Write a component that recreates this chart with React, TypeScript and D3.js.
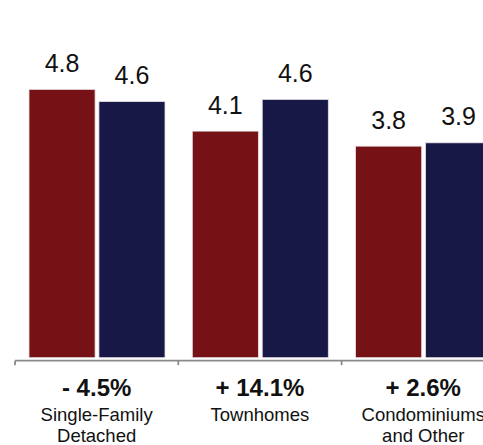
import React from "react";
import * as d3 from "d3";

const categories = ["Single-Family Detached", "Townhomes", "Condominiums and Other"];
const categoryLines = [["Single-Family", "Detached"], ["Townhomes"], ["Condominiums", "and Other"]];
const priorYear = [4.82, 4.07, 3.8];
const currentYear = [4.6, 4.64, 3.86];
const changeLabels = ["- 4.5%", "+ 14.1%", "+ 2.6%"];
const seriesColors = ["#761216", "#171845"];

export default function App() {
  const W = 483;
  const H = 445;
  const x0 = d3.scaleBand<string>().domain(categories).range([15, 15 + 163.3 * 3]).paddingInner(0).paddingOuter(0);
  const x1 = d3.scaleBand<string>().domain(["prior", "current"]).range([14, 163.3 - 13.3]).paddingInner(0.055);
  const y = d3.scaleLinear().domain([0, 5]).range([357.7, 79.35]);
  const font = "'Liberation Sans', Arial, Helvetica, sans-serif";
  const axisY = 360.7;

  return (
    <svg width={W} height={H} style={{ position: "absolute", left: 0, top: 0 }}>
      <rect width={W} height={H} fill="#fff" />
      {categories.map((c, i) => {
        const gx = x0(c)!;
        const vals = [priorYear[i], currentYear[i]];
        return (
          <g key={c}>
            {["prior", "current"].map((s, j) => {
              const bx = gx + x1(s)!;
              const v = vals[j];
              return (
                <g key={s}>
                  <rect
                    x={bx}
                    y={y(v)}
                    width={x1.bandwidth()}
                    height={y(0) - y(v)}
                    fill={seriesColors[j]}
                    stroke="#e8e0e4"
                    strokeWidth={0.8}
                  />
                  <text
                    x={bx + x1.bandwidth() / 2}
                    y={y(v) - 17.5}
                    textAnchor="middle"
                    fontFamily={font}
                    fontSize={25}
                    fill="#111"
                  >
                    {v.toFixed(1)}
                  </text>
                </g>
              );
            })}
            <text
              x={gx + x0.bandwidth() / 2}
              y={395.5}
              textAnchor="middle"
              fontFamily={font}
              fontSize={24}
              fontWeight="bold"
              fill="#111"
            >
              {changeLabels[i]}
            </text>
            {categoryLines[i].map((ln, k) => (
              <text
                key={k}
                x={gx + x0.bandwidth() / 2}
                y={421 + k * 20.5}
                textAnchor="middle"
                fontFamily={font}
                fontSize={18.5}
                fill="#111"
              >
                {ln}
              </text>
            ))}
          </g>
        );
      })}
      <line x1={15} x2={W} y1={axisY} y2={axisY} stroke="#8a8a8a" strokeWidth={1.8} />
      {categories.map((c) => (
        <line key={c} x1={x0(c)!} x2={x0(c)!} y1={axisY} y2={axisY + 4.5} stroke="#8a8a8a" strokeWidth={1.8} />
      ))}
    </svg>
  );
}
